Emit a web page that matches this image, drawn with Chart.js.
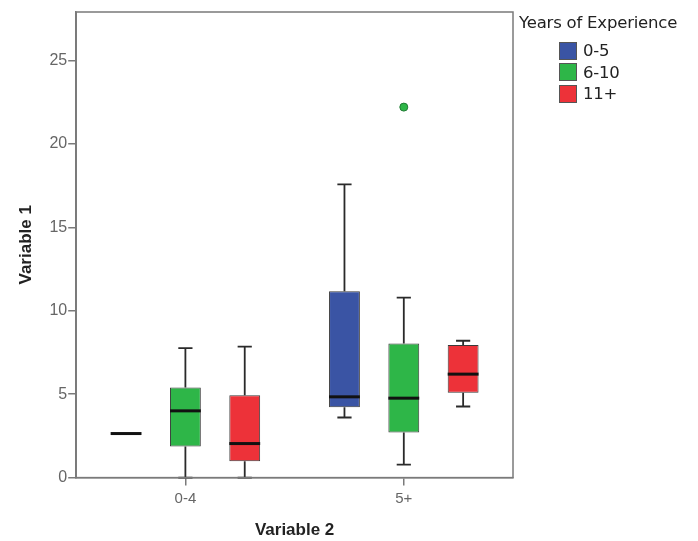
<!DOCTYPE html>
<html>
<head>
<meta charset="utf-8">
<script src="https://cdn.jsdelivr.net/npm/chart.js@4"></script>
<style>
  body { margin: 0; background: #fff; }
  #wrap { position: relative; width: 698px; height: 541px; }
  #legend { position: absolute; left: 519px; top: 13px; font-family: "DejaVu Sans", Verdana, sans-serif; font-size: 16.5px; letter-spacing: -0.2px; color: #222; }
  #legend .title { margin-bottom: 8px; }
  #legend .item { display: flex; align-items: center; margin-left: 40px; height: 21.5px; }
  #legend .sw { width: 18px; height: 18px; border: 1px solid #555; box-sizing: border-box; margin-right: 6px; }
</style>
</head>
<body>
<div id="wrap">
  <canvas id="boxChart"></canvas>
  <div id="legend"></div>
</div>
<script>
// Categories and groups
const categories = ["0-4", "5+"];
const groups = ["0-5", "6-10", "11+"];
const colors = ["#3a54a4", "#2eb648", "#ed3239"];

// Box stats per group, one value per category
const mins    = [[2.64, 3.6],  [0, 0.78],    [0, 4.26]];
const q1s     = [[2.64, 4.22], [1.86, 2.7],  [0.98, 5.08]];
const medians = [[2.64, 4.84], [4.0, 4.76],  [2.04, 6.2]];
const q3s     = [[2.64, 11.17],[5.4, 8.04],  [4.94, 7.94]];
const maxs    = [[2.64, 17.57],[7.76, 10.78],[7.85, 8.2]];

// Outliers (6-10 group)
const outliers = [null, 22.2];

const yTicks = [0, 5, 10, 15, 20, 25];

const datasets = groups.map((g, gi) => ({
    label: g,
    data: categories.map((_, ci) => [q1s[gi][ci], q3s[gi][ci]]),
    backgroundColor: colors[gi],
    borderColor: "#3a3a3a",
    borderWidth: 1,
    borderSkipped: false,
    categoryPercentage: 0.815,
    barPercentage: 0.52,
    order: 2
}));

datasets.push({
    type: "line",
    label: "outliers",
    data: outliers,
    showLine: false,
    pointRadius: 4,
    pointBackgroundColor: colors[1],
    pointBorderColor: "#1f7a33",
    pointBorderWidth: 1,
    order: 1
});

// Whiskers, caps and medians
const boxPlugin = {
    id: "boxWhiskers",
    afterDatasetsDraw(chart) {
        const ctx = chart.ctx;
        const y = chart.scales.y;
        groups.forEach((_, gi) => {
            const meta = chart.getDatasetMeta(gi);
            meta.data.forEach((bar, ci) => {
                const x = bar.x, w = bar.width;
                const pMin = y.getPixelForValue(mins[gi][ci]);
                const pQ1 = y.getPixelForValue(q1s[gi][ci]);
                const pMed = y.getPixelForValue(medians[gi][ci]);
                const pQ3 = y.getPixelForValue(q3s[gi][ci]);
                const pMax = y.getPixelForValue(maxs[gi][ci]);
                ctx.save();
                ctx.strokeStyle = "#2a2a2a";
                ctx.lineWidth = 1.8;
                ctx.beginPath();
                if (pMax < pQ3) {
                    ctx.moveTo(x, pQ3); ctx.lineTo(x, pMax);
                    ctx.moveTo(x - w * 0.23, pMax); ctx.lineTo(x + w * 0.23, pMax);
                }
                if (pMin > pQ1) {
                    ctx.moveTo(x, pQ1); ctx.lineTo(x, pMin);
                    ctx.moveTo(x - w * 0.23, pMin); ctx.lineTo(x + w * 0.23, pMin);
                }
                ctx.stroke();
                ctx.strokeStyle = "#111";
                ctx.lineWidth = 3;
                ctx.beginPath();
                ctx.moveTo(x - w / 2, pMed);
                ctx.lineTo(x + w / 2, pMed);
                ctx.stroke();
                ctx.restore();
            });
        });
    },
    afterDraw(chart) {
        const { left, top, right, bottom } = chart.chartArea;
        const ctx = chart.ctx;
        ctx.save();
        ctx.strokeStyle = "#7a7a7a";
        ctx.lineWidth = 1.5;
        ctx.strokeRect(left, top, right - left, bottom - top);
        ctx.restore();
    }
};

const ctx = document.getElementById("boxChart").getContext("2d");
new Chart(ctx, {
    type: "bar",
    data: { labels: categories, datasets },
    options: {
        responsive: true,
        maintainAspectRatio: false,
        animation: false,
        layout: { padding: { left: 16, top: 12, right: 185, bottom: 0 } },
        plugins: {
            legend: { display: false },
            tooltip: { enabled: false }
        },
        scales: {
            x: {
                grid: { display: true, offset: false, drawOnChartArea: false, tickLength: 8, color: "#7a7a7a", lineWidth: 1.5 },
                border: { color: "#7a7a7a", width: 1.5 },
                ticks: { color: "#666", font: { family: "Liberation Sans, Arial", size: 15 }, padding: 4 },
                title: { display: true, text: "Variable 2", color: "#222", font: { family: "Liberation Sans, Arial", size: 17, weight: "bold" }, padding: { top: 9, bottom: 0 } }
            },
            y: {
                min: 0,
                max: 27.9,
                afterBuildTicks: scale => { scale.ticks = yTicks.map(v => ({ value: v })); },
                grid: { display: true, drawOnChartArea: false, tickLength: 8, color: "#7a7a7a", lineWidth: 1.5 },
                border: { color: "#7a7a7a", width: 1.5 },
                ticks: { color: "#666", font: { family: "Liberation Sans, Arial", size: 16 }, padding: 1 },
                title: { display: true, text: "Variable 1", color: "#222", font: { family: "Liberation Sans, Arial", size: 17, weight: "bold" }, padding: { top: 0, bottom: 12 } }
            }
        }
    },
    plugins: [boxPlugin]
});

// Legend
const legend = document.getElementById("legend");
legend.innerHTML = '<div class="title">Years of Experience</div>' +
    groups.map((g, i) => `<div class="item"><span class="sw" style="background:${colors[i]}"></span>${g}</div>`).join("");
</script>
</body>
</html>
